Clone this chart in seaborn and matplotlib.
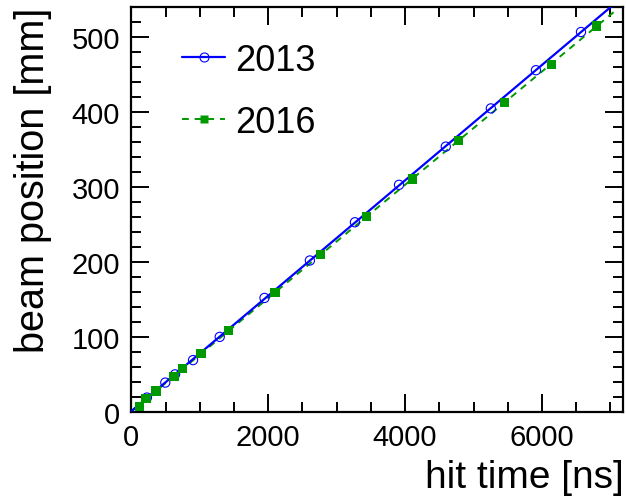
import numpy as np
import pandas as pd
import matplotlib
matplotlib.use("Agg")
import matplotlib.pyplot as plt
from matplotlib.lines import Line2D
from matplotlib.ticker import MultipleLocator
import seaborn as sns

# Hit time [ns] vs. beam position [mm] for the two calibration runs
time_2013 = [229, 497, 640, 902, 1292, 1946, 2609, 3267, 3911, 4594, 5252, 5911, 6569]
pos_2013 = [19, 39, 50, 69, 100, 152, 202, 253, 303, 354, 405, 456, 507]

time_2016 = [117, 215, 361, 624, 751, 1019, 1424, 2097, 2765, 3438, 4106, 4779, 5452, 6140, 6798]
pos_2016 = [7, 18, 27.5, 47.5, 58, 78, 108.5, 159, 210, 261, 311, 362, 413, 464, 515]

labels = ["2013", "2016"]
x_ticks_major, x_ticks_minor = 2000, 500
y_ticks_major, y_ticks_minor = 100, 20

sns.set_theme(style="ticks")
plt.rcParams["font.family"] = ["Liberation Sans", "DejaVu Sans"]
plt.rcParams.update({
    "text.color": "black",
    "axes.labelcolor": "black",
    "xtick.color": "black",
    "ytick.color": "black",
    "axes.edgecolor": "black",
})

BLUE = "#0000ff"
GREEN = "#009900"

df13 = pd.DataFrame({"t": time_2013, "z": pos_2013})
df16 = pd.DataFrame({"t": time_2016, "z": pos_2016})

# straight-line fits, drawn over the full time range
t_fit = np.linspace(0, 7050, 50)
p13 = np.polyfit(df13["t"], df13["z"], 1)
p16 = np.polyfit(df16["t"], df16["z"], 1)
fit13 = pd.DataFrame({"t": t_fit, "z": np.polyval(p13, t_fit)})
fit16 = pd.DataFrame({"t": t_fit, "z": np.polyval(p16, t_fit)})

fig = plt.figure(figsize=(6.26, 5.02), dpi=100)
ax = fig.add_axes([0.2097, 0.1777, 0.996 - 0.2097, 0.985 - 0.1777])

sns.lineplot(data=fit16, x="t", y="z", ax=ax, color=GREEN, lw=1.4,
             linestyle=(0, (3.5, 3)), zorder=2)
sns.lineplot(data=fit13, x="t", y="z", ax=ax, color=BLUE, lw=1.6, zorder=3)
sns.scatterplot(data=df13, x="t", y="z", ax=ax, marker="o", s=44,
                facecolor="none", edgecolor=BLUE, linewidth=0.8, zorder=4)
sns.scatterplot(data=df16, x="t", y="z", ax=ax, marker="s", s=46,
                color=GREEN, edgecolor="none", linewidth=0, zorder=5)

ax.set_xlim(0, 7190)
ax.set_ylim(0, 541)

ax.xaxis.set_major_locator(MultipleLocator(x_ticks_major))
ax.xaxis.set_minor_locator(MultipleLocator(x_ticks_minor))
ax.yaxis.set_major_locator(MultipleLocator(y_ticks_major))
ax.yaxis.set_minor_locator(MultipleLocator(y_ticks_minor))

ax.tick_params(which="both", direction="in", top=True, right=True,
               width=1.4, colors="black", labelcolor="black", labelsize=21)
ax.tick_params(which="major", length=13)
ax.tick_params(which="minor", length=7)
ax.tick_params(axis="x", pad=8)
ax.tick_params(axis="y", pad=8)
for s in ax.spines.values():
    s.set_linewidth(1.6)
    s.set_color("black")

ax.set_xlabel("hit time [ns]", fontsize=28, loc="right", color="black")
ax.xaxis.set_label_coords(1.0, -0.1175)
ax.set_ylabel("beam position [mm]", fontsize=28.5, loc="top", color="black")
ax.yaxis.set_label_coords(-0.161, 1.0)

handles = [
    Line2D([], [], color=BLUE, lw=1.6, marker="o", mfc="none", mec=BLUE,
           mew=0.8, ms=6.5),
    Line2D([], [], color=GREEN, lw=1.4, linestyle=(0, (3.5, 3)), marker="s",
           mfc=GREEN, mec="none", ms=6.2),
]
leg = ax.legend(handles, labels, loc="upper left", bbox_to_anchor=(0.103, 0.911),
                frameon=False, fontsize=26, borderpad=0, borderaxespad=0,
                handlelength=1.2, handletextpad=0.28, labelspacing=0.76)
for txt in leg.get_texts():
    txt.set_color("black")

fig.savefig("out.png", dpi=100)
